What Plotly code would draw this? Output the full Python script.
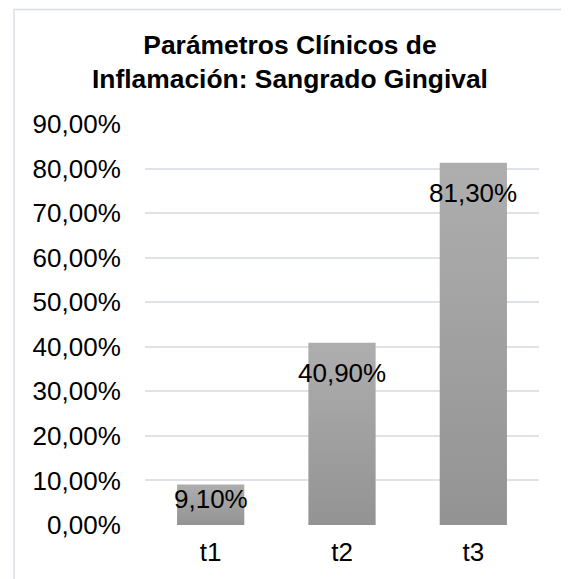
import plotly.graph_objects as go

categories = ["t1", "t2", "t3"]
values = [0.091, 0.409, 0.813]
title_lines = ["Parámetros Clínicos de", "Inflamación: Sangrado Gingival"]

# page body has an 8px default margin, so the figure is sized to fit the window
W, H = 561, 571
L, R, T, B = 137, 30, 116, 54
YMAX = 0.9
plot_h = H - T - B
plot_w = W - L - R
px_per_unit = plot_h / YMAX

BAR_HALF = 0.256
FONT = "Liberation Sans, Arial, sans-serif"

fig = go.Figure()

for i, (cat, v) in enumerate(zip(categories, values)):
    fig.add_trace(go.Scatter(
        x=[i - BAR_HALF, i - BAR_HALF, i + BAR_HALF, i + BAR_HALF, i - BAR_HALF],
        y=[0, v, v, 0, 0],
        mode="lines",
        fill="toself",
        line=dict(width=0, color="rgba(0,0,0,0)"),
        fillgradient=dict(type="vertical",
                          colorscale=[[0, "#939393"], [1, "#aeaeae"]]),
        hoverinfo="skip",
        showlegend=False,
        name=cat,
    ))

# data labels (inside end)
label_offset = 30 / px_per_unit
label_min = 26 / px_per_unit
for i, v in enumerate(values):
    txt = f"{v*100:.2f}".replace(".", ",") + "%"
    fig.add_annotation(
        x=i, y=max(v - label_offset, label_min),
        text=txt, showarrow=False, xanchor="center", yanchor="middle",
        font=dict(family=FONT, size=26, color="#000000"),
    )

# chart border
fig.add_shape(type="rect", xref="paper", yref="paper",
              x0=(6 - L) / plot_w, x1=(558 - L) / plot_w,
              y0=(H - B - (H + 20)) / plot_h, y1=(H - B - 1.5) / plot_h,
              line=dict(color="#dadee4", width=1.5), fillcolor="rgba(0,0,0,0)",
              layer="below")

fig.update_layout(
    width=W, height=H,
    margin=dict(l=L, r=R, t=T, b=B),
    paper_bgcolor="white", plot_bgcolor="white",
    separators=",.",
    font=dict(family=FONT, size=26, color="#000000"),
    title=dict(
        text="<b>" + "<br>".join(title_lines) + "</b>",
        x=282 / W, xref="container", xanchor="center",
        y=1 - 46 / H, yref="container", yanchor="top",
        font=dict(family=FONT, size=26.4, color="#000000"),
    ),
    xaxis=dict(
        range=[-0.5, len(categories) - 0.5],
        tickmode="array", tickvals=list(range(len(categories))), ticktext=categories,
        showgrid=False, zeroline=False, showline=False,
        ticks="outside", ticklen=4, tickcolor="rgba(0,0,0,0)",
        tickfont=dict(family=FONT, size=26, color="#000000"),
        fixedrange=True,
    ),
    yaxis=dict(
        range=[0, YMAX], tickmode="linear", tick0=0, dtick=0.1,
        tickformat=".2%",
        showgrid=True, gridcolor="#dfe3e8", gridwidth=1.5,
        zeroline=False, showline=False,
        ticks="outside", ticklen=18, tickcolor="rgba(0,0,0,0)",
        tickfont=dict(family=FONT, size=26, color="#000000"),
        fixedrange=True,
    ),
)

fig.write_html("out.html")
